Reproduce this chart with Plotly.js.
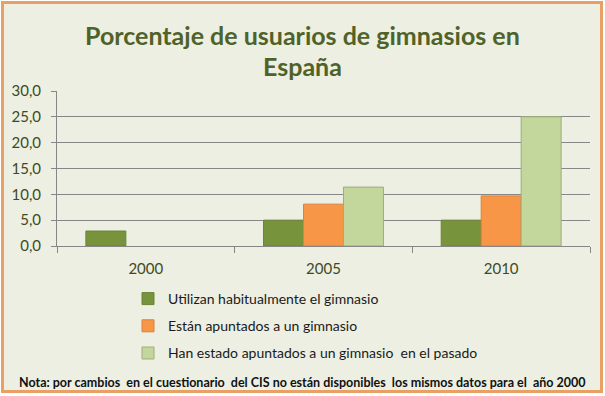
<!DOCTYPE html>
<html><head><meta charset="utf-8">
<script src="https://cdn.plot.ly/plotly-3.0.1.min.js"></script>
<style>html,body{margin:0;padding:0;background:#fff;}#chart{width:605px;height:396px;}</style>
</head><body><div id="chart"></div>
<script>
var categories = ['2000', '2005', '2010'];
var seriesNames = ['Utilizan habitualmente el gimnasio', 'Están apuntados a un gimnasio', 'Han estado apuntados a un gimnasio  en el pasado'];
var utilizan = [2.9, 5.0, 5.0];
var apuntados = [null, 8.1, 9.7];
var pasado = [null, 11.4, 25.0];
var yTicks = [0, 5, 10, 15, 20, 25, 30];
var titleLines = ['Porcentaje de usuarios de gimnasios en', 'España'];

var colors = ['#77933C', '#F79646', '#C3D69B'];
var lines = ['#6A8535', '#D9823C', '#9DAE7C'];
var vals = [utilizan, apuntados, pasado];
var font = 'Lato, "Open Sans", sans-serif';

var traces = vals.map(function(v, i){
  return {type:'bar', x:categories, y:v, name:seriesNames[i], legendgroup:'g'+i,
    marker:{color:colors[i], line:{color:lines[i], width:1}}, hoverinfo:'skip'};
});

var W = 533, H = 155;
function px(x){return (x-57)/W;}
function py(y){return (246-y)/H;}

var annotations = [{xref:'paper', yref:'paper', x:px(302), y:py(382), xanchor:'center', yanchor:'middle', showarrow:false,
    text:'Nota: por cambios  en el cuestionario  del CIS no están disponibles  los mismos datos para el  año 2000',
    font:{family:font, size:12.5, color:'#111', weight:'bold'}}];
var titleY = [35, 66];
titleLines.forEach(function(t, i){
  annotations.push({xref:'paper', yref:'paper', x:px(302), y:py(titleY[i]), xanchor:'center', yanchor:'middle', showarrow:false,
    text:t, font:{family:font, size:25, color:'#4F6228', weight:'bold'}});
});

var layout = {
  width:605, height:396,
  margin:{l:57, r:15, t:91, b:150, autoexpand:false},
  paper_bgcolor:'#ffffff', plot_bgcolor:'#F0F2EA',
  separators:',.',
  barmode:'group', bargap:0.325, bargroupgap:0,
  xaxis:{type:'category', tickson:'boundaries', ticks:'outside', ticklen:6, tickcolor:'#868686',
    showline:true, linecolor:'#868686', linewidth:1, showgrid:false, tickangle:0, ticklabelstandoff:9,
    tickfont:{family:font, size:15, color:'#3F4A22'}, fixedrange:true, automargin:false},
  yaxis:{range:[0,30], tickvals:yTicks, tickformat:'.1f', ticks:'outside', ticklen:5, tickcolor:'#868686',
    showline:true, linecolor:'#868686', linewidth:1, gridcolor:'#878787', gridwidth:1, zeroline:false, ticklabelstandoff:7,
    tickfont:{family:font, size:15, color:'#3F4A22'}, fixedrange:true, automargin:false},
  showlegend:true,
  legend:{orientation:'v', x:128/605, xref:'container', y:1-283/396, yref:'container', yanchor:'top', xanchor:'left',
    font:{family:font, size:14, color:'#1a1a1a'}, tracegroupgap:6, bgcolor:'rgba(0,0,0,0)'},
  shapes:[{type:'rect', xref:'paper', yref:'paper', x0:px(2.5), x1:px(601.5), y0:py(391.5), y1:py(2.5),
    fillcolor:'#ECEFE2', line:{color:'#E8A064', width:3}, layer:'below'}],
  annotations:annotations
};
Plotly.newPlot('chart', traces, layout, {displayModeBar:false, staticPlot:true});
</script></body></html>
